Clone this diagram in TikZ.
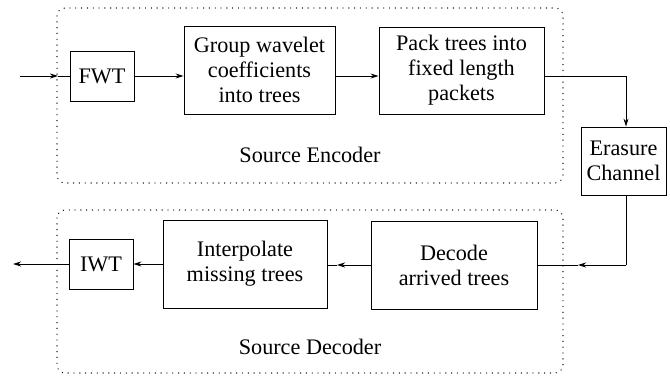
\documentclass[tikz,border=0pt]{standalone}
\usepackage{fontspec}
\setmainfont{Liberation Serif}
\usetikzlibrary{arrows.meta}
\begin{document}
\begin{tikzpicture}[x=1pt,y=-1pt,
  blk/.style={draw,line width=0.9pt,inner sep=0pt,align=center,font=\fontsize{22.2}{25}\selectfont},
  grp/.style={draw,line width=1.4pt,dash pattern=on 0.01pt off 5.8pt,line cap=round,rounded corners=8pt},
  lbl/.style={font=\fontsize{22.2}{25}\selectfont,inner sep=0pt},
  ar/.style={-{Stealth[length=8pt,width=5pt,inset=2.5pt]},line width=0.9pt},
  ln/.style={line width=0.9pt}]
\useasboundingbox (0,0) rectangle (670,380);
\draw[grp] (57,8) rectangle (563,183);
\draw[grp] (57,210) rectangle (563,373);
\node[blk,minimum width=64pt,minimum height=50pt] (fwt) at (102,76) {FWT};
\node[blk,minimum width=151pt,minimum height=88pt] (grpb) at (259.5,70) {Group wavelet\\coefficients\\into trees};
\node[blk,minimum width=165pt,minimum height=87pt] (pack) at (461.5,70.5) {Pack trees into\\fixed length\\packets};
\node[blk,minimum width=85pt,minimum height=68pt] (ers) at (623.5,161) {Erasure\\Channel};
\node[blk,minimum width=166pt,minimum height=88pt] (dec) at (454,265) {Decode\\arrived trees};
\node[blk,minimum width=164pt,minimum height=88pt] (int) at (245,264) {Interpolate\\missing trees};
\node[blk,minimum width=64pt,minimum height=50pt] (iwt) at (101,264) {IWT};
\node[lbl] (enclbl) at (310,155) {Source Encoder};
\node[lbl] (declbl) at (310,347) {Source Decoder};
\coordinate (in) at (20,76);
\coordinate (m1) at (58,76);
\coordinate (c1) at (626,76);
\coordinate (c2) at (626,265);
\coordinate (m2) at (578,265);
\coordinate (m3) at (337,265);
\coordinate (out) at (13,264);
\draw[ar] (in) -- (m1);
\draw[ln] (m1) -- (fwt.west);
\draw[ar] (fwt.east) -- (grpb.west |- fwt.east);
\draw[ar] (grpb.east |- fwt.east) -- (pack.west |- fwt.east);
\draw[ar] (pack.east |- c1) -- (c1) -- (c1 |- ers.north);
\draw[ln] (c1 |- ers.south) -- (c2);
\draw[ar] (c2) -- (m2);
\draw[ln] (m2) -- (dec.east |- c2);
\draw[ar] (dec.west |- c2) -- (m3);
\draw[ln] (m3) -- (int.east |- m3);
\draw[ar] (int.west |- iwt.east) -- (iwt.east);
\draw[ar] (iwt.west) -- (out);
\end{tikzpicture}
\end{document}
